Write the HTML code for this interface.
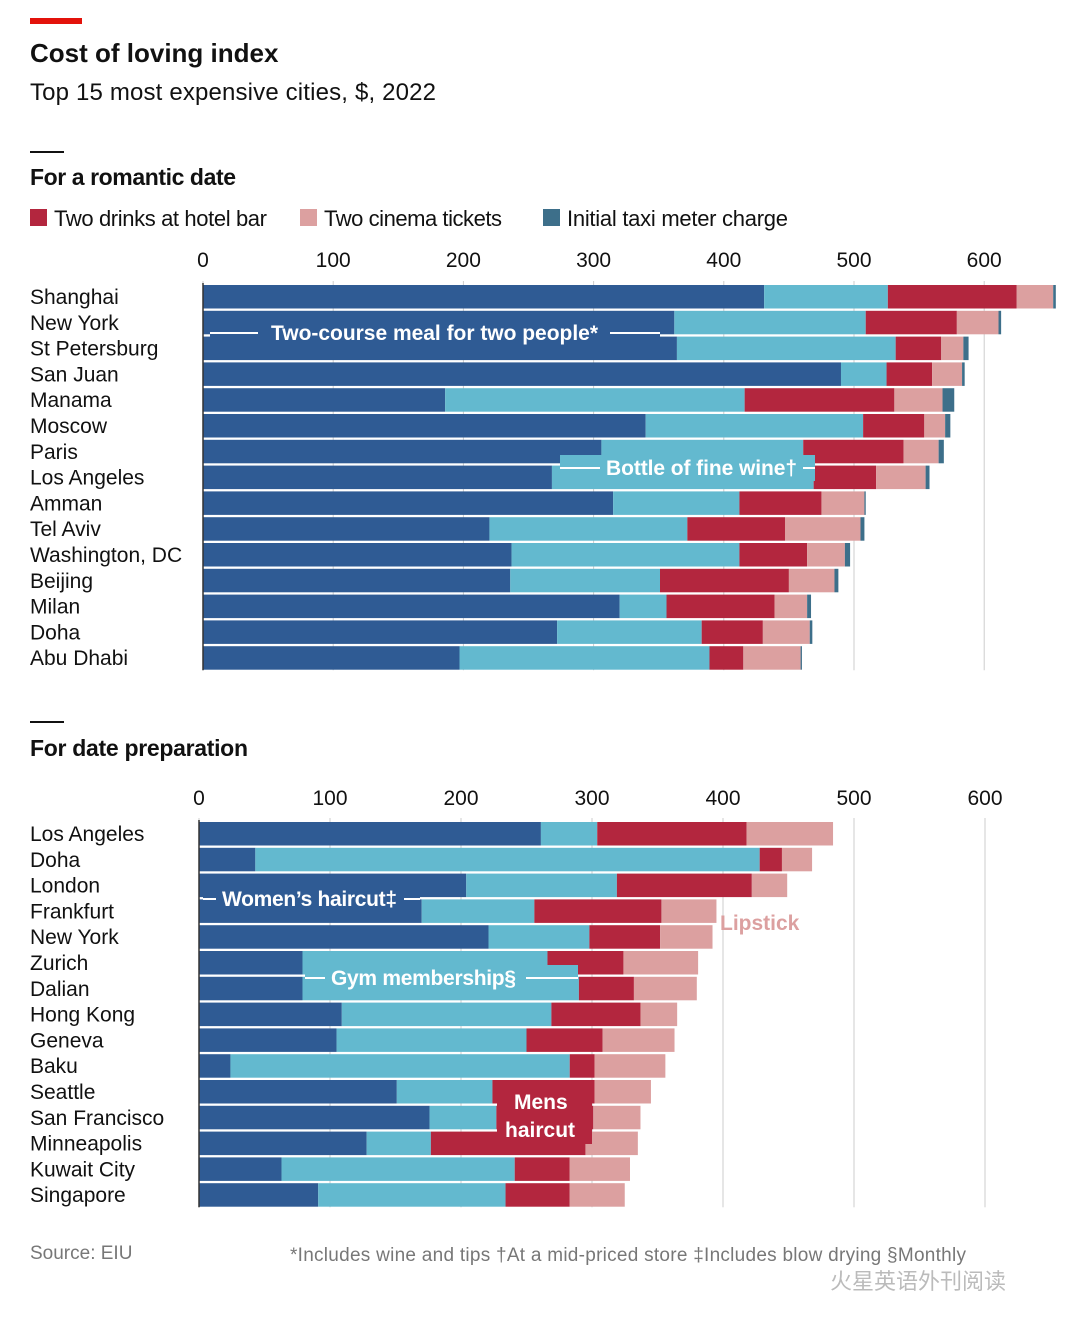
<!DOCTYPE html>
<html><head><meta charset="utf-8"><style>
body{margin:0;background:#fff;}
svg text{font-family:"Liberation Sans",sans-serif;}
</style></head><body>
<svg id="c" width="1080" height="1329" viewBox="0 0 1080 1329" xmlns="http://www.w3.org/2000/svg">
<rect x="30" y="18" width="52" height="6" fill="#e3120b"/>
<text x="30" y="62" font-size="26" font-weight="bold" fill="#111">Cost of loving index</text>
<text x="30" y="100" font-size="24" fill="#111" textLength="406">Top 15 most expensive cities, $, 2022</text>
<rect x="30" y="151" width="34" height="2" fill="#111"/>
<text x="30" y="185" font-size="23" font-weight="bold" fill="#111" textLength="206">For a romantic date</text>
<rect x="30" y="209" width="17" height="17" fill="#b3263e"/>
<text x="54" y="226" font-size="22" fill="#111" textLength="213">Two drinks at hotel bar</text>
<rect x="300" y="209" width="17" height="17" fill="#dca0a0"/>
<text x="324" y="226" font-size="22" fill="#111" textLength="178">Two cinema tickets</text>
<rect x="543" y="209" width="17" height="17" fill="#3d6f8a"/>
<text x="567" y="226" font-size="22" fill="#111" textLength="221">Initial taxi meter charge</text>
<rect x="30" y="721" width="34" height="2" fill="#111"/>
<text x="30" y="756" font-size="23" font-weight="bold" fill="#111" textLength="218">For date preparation</text>
<text x="30" y="1259" font-size="19" fill="#777">Source: EIU</text>
<text x="290" y="1261" font-size="19" fill="#777" textLength="676">*Includes wine and tips †At a mid-priced store ‡Includes blow drying §Monthly</text>
<text x="830" y="1289" font-size="22" fill="#bbb" font-family="Noto Sans CJK SC">火星英语外刊阅读</text>
<g id="p1"></g><g id="p2"></g>
</svg>
<script>
const ticks=[0,100,200,300,400,500,600];
const cities1=["Shanghai","New York","St Petersburg","San Juan","Manama","Moscow","Paris","Los Angeles","Amman","Tel Aviv","Washington, DC","Beijing","Milan","Doha","Abu Dhabi"];
const meal=[431,362,364,490,186,340,306,268,315,220,237,236,320,272,197];
const wine=[95,147,168,35,230,167,155,201,97,152,175,115,36,111,192];
const drinks=[99,70,35,35,115,47,77,48,63,75,52,99,83,47,26];
const cinema=[28,32,17,23,37,16,27,38,33,58,29,35,25,36,44];
const taxi=[2,2,4,2,9,4,4,3,1,3,4,3,3,2,1];
const cities2=["Los Angeles","Doha","London","Frankfurt","New York","Zurich","Dalian","Hong Kong","Geneva","Baku","Seattle","San Francisco","Minneapolis","Kuwait City","Singapore"];
const womens=[261,43,204,170,221,79,79,109,105,24,151,176,128,63,91];
const gym=[43,385,115,86,77,187,211,160,145,259,73,51,49,178,143];
const mens=[114,17,103,97,54,58,42,68,58,19,78,74,118,42,49];
const lipstick=[66,23,27,42,40,57,48,28,55,54,43,36,40,46,42];
const NS="http://www.w3.org/2000/svg";
function mk(p,t,a){const e=document.createElementNS(NS,t);for(const k in a)e.setAttribute(k,a[k]);p.appendChild(e);return e;}
function panel(g,x0,k,top,tickY,cities,series,colors){
  const xs=v=>x0+v*k, rowY=i=>top+i*25.8;
  ticks.forEach(t=>{
    const l=mk(g,"line",{x1:xs(t),x2:xs(t),y1:top-4,y2:rowY(14)+24,stroke:"#ccc","stroke-width":1});
    
    
    const tx=mk(g,"text",{x:xs(t),y:tickY,"font-size":21,"text-anchor":"middle",fill:"#111"});tx.textContent=t;
    
    
  });
  cities.forEach((c,i)=>{
    const tx=mk(g,"text",{x:30,y:rowY(i)+19,"font-size":21,fill:"#111"});tx.textContent=c;
    
    
    let acc=0;
    series.forEach((s,j)=>{
      const r=mk(g,"rect",{x:xs(acc),y:rowY(i),width:s[i]*k,height:23.5,fill:colors[j]});
      
      
      acc+=s[i];
    });
  });
  const ax=mk(g,"line",{x1:x0,x2:x0,y1:top-2,y2:rowY(14)+24,stroke:"#333","stroke-width":1.5});
  
  
}
const p1=document.getElementById('p1'),p2=document.getElementById('p2');
panel(p1,203,1.302,285,267,cities1,[meal,wine,drinks,cinema,taxi],["#2f5b94","#63b9cf","#b3263e","#dca0a0","#3d6f8a"]);
panel(p2,199,1.31,822,805,cities2,[womens,gym,mens,lipstick],["#2f5b94","#63b9cf","#b3263e","#dca0a0"]);
function lab(g,x,y,t,lines,bg,w,name){
  if(bg){const x1=Math.min(x-6,lines[0][0]), x2=Math.max(x+w+6,lines[lines.length-1][1]);
    const b=mk(g,"rect",{x:x1,y:y-20,width:x2-x1,height:26,fill:bg});
    
    }
  lines.forEach(l=>{const e=mk(g,"line",{x1:l[0],x2:l[1],y1:y-7,y2:y-7,stroke:"#fff","stroke-width":2});
    
    });
  const e=mk(g,"text",{x:x,y:y,"font-size":21,"font-weight":"bold",fill:"#fff"});e.textContent=t;
  if(w) e.setAttribute('textLength',w);
  
  
  return e;
}
lab(p1,271,340,"Two-course meal for two people*",[[210,258],[610,660]],"#2f5b94",327,'meal-label');
lab(p1,606,475,"Bottle of fine wine†",[[560,600],[803,815]],"#63b9cf",191,'wine-label');
lab(p2,222,906,"Women’s haircut‡",[[203,216],[404,420]],"#2f5b94",175,'womens-haircut-label');
lab(p2,331,985,"Gym membership§",[[305,325],[526,578]],"#63b9cf",185,'gym-label');
const mb=mk(p2,"rect",{x:497,y:1082,width:95,height:62,fill:"#b3263e"});


lab(p2,514,1109,"Mens",[],null,0,'mens-haircut-label');
lab(p2,505,1137,"haircut",[],null,0,'mens-haircut-label-2');
const lp=lab(p2,720,930,"Lipstick",[],null,0,'lipstick-label');
lp.setAttribute('fill','#dca0a0');
</script>
</body></html>
